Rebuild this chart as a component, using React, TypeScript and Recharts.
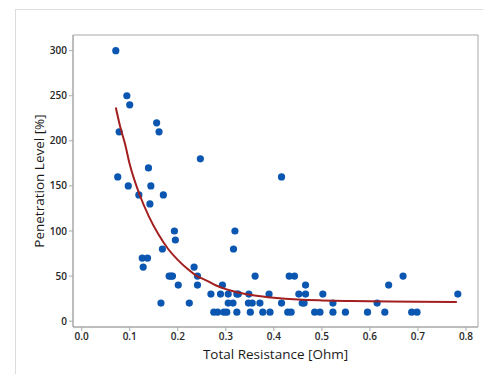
import { ScatterChart, Scatter, XAxis, YAxis, ReferenceArea } from 'recharts'

// measured samples: total resistance [Ohm] vs penetration level [%]
const resistance = [
  0.071, 0.094, 0.1, 0.156, 0.161, 0.078, 0.139, 0.075, 0.247, 0.097,
  0.144, 0.119, 0.17, 0.142, 0.193, 0.195, 0.168, 0.126, 0.137, 0.128,
  0.182, 0.186, 0.189, 0.201, 0.165, 0.224, 0.234, 0.241, 0.241, 0.416,
  0.319, 0.316, 0.361, 0.432, 0.443, 0.466, 0.293, 0.269, 0.289, 0.305,
  0.323, 0.326, 0.348, 0.39, 0.452, 0.466, 0.502, 0.305, 0.315, 0.347,
  0.355, 0.371, 0.416, 0.459, 0.463, 0.523, 0.275, 0.283, 0.296, 0.302,
  0.323, 0.351, 0.377, 0.392, 0.429, 0.436, 0.485, 0.496, 0.523, 0.549,
  0.595, 0.615, 0.631, 0.639, 0.669, 0.687, 0.698, 0.783,
]
const penetration = [
  300, 250, 240, 220, 210, 210, 170, 160, 180, 150,
  150, 140, 140, 130, 100, 90, 80, 70, 70, 60,
  50, 50, 50, 40, 20, 20, 60, 50, 40, 160,
  100, 80, 50, 50, 50, 40, 40, 30, 30, 30,
  30, 30, 30, 30, 30, 30, 30, 20, 20, 20,
  20, 20, 20, 20, 20, 20, 10, 10, 10, 10,
  10, 10, 10, 10, 10, 10, 10, 10, 10, 10,
  10, 20, 10, 40, 50, 10, 10, 30,
]

// fitted curve
const fitX = [0.071, 0.08, 0.09, 0.1, 0.12, 0.14, 0.16, 0.18, 0.2, 0.22, 0.24, 0.26, 0.28, 0.3, 0.33, 0.36, 0.4, 0.45, 0.5, 0.55, 0.6, 0.7, 0.781]
const fitY = [237, 216, 197, 174, 141, 116, 96, 80, 68, 58, 50, 45, 39.5, 35.5, 31.3, 28.5, 26, 24, 23, 22.4, 22, 21.6, 21.3]

const xTicks = [0, 0.1, 0.2, 0.3, 0.4, 0.5, 0.6, 0.7, 0.8]
const yTicks = [0, 50, 100, 150, 200, 250, 300]

const points = resistance.map((x, i) => ({ x, y: penetration[i] }))
const fit = fitX.map((x, i) => ({ x, y: fitY[i] }))

const X_DOMAIN: [number, number] = [-0.0181, 0.825]
const Y_DOMAIN: [number, number] = [-6.5, 317.4]

const tickStyle = { fill: '#262626', fontSize: 10, fontWeight: 600, fontFamily: '"Open Sans", "Noto Sans", sans-serif' }
const titleStyle = { fill: '#1a1a1a', fontSize: 13.5, fontFamily: '"Open Sans", "Noto Sans", sans-serif' }

const Dot = (props: any) => <circle cx={props.cx} cy={props.cy} r={3.6} fill="#0b56b0" />

const App = () => (
  <div style={{ position: 'absolute', left: 0, top: 0, width: 483, height: 374, background: '#fff' }}>
    <div
      style={{
        position: 'absolute',
        left: 15,
        top: 9,
        width: 468,
        height: 365,
        borderLeft: '1px solid #dcdcdc',
        borderTop: '1px solid #dcdcdc',
        boxSizing: 'border-box',
      }}
    />
    <ScatterChart width={483} height={374} margin={{ top: 35, right: 5, left: 0, bottom: 0 }} style={{ position: 'absolute', left: 0, top: 0 }}>
      <XAxis
        type="number"
        dataKey="x"
        domain={X_DOMAIN}
        ticks={xTicks}
        tickFormatter={(v: number) => v.toFixed(1)}
        allowDataOverflow
        height={47}
        tickSize={4}
        tickMargin={2}
        stroke="#a8a8a8"
        tick={tickStyle}
        label={{ value: 'Total Resistance [Ohm]', position: 'center', dy: 4, style: titleStyle }}
      />
      <YAxis
        type="number"
        dataKey="y"
        domain={Y_DOMAIN}
        ticks={yTicks}
        allowDataOverflow
        width={73}
        tickSize={4}
        tickMargin={2}
        stroke="#a8a8a8"
        tick={tickStyle}
        label={{ value: 'Penetration Level [%]', angle: -90, position: 'center', dx: 3, style: titleStyle }}
      />
      <ReferenceArea x1={X_DOMAIN[0]} x2={X_DOMAIN[1]} y1={Y_DOMAIN[0]} y2={Y_DOMAIN[1]} fill="none" stroke="#a8a8a8" />
      <Scatter data={points} shape={Dot} isAnimationActive={false} />
      <Scatter
        data={fit}
        line={{ stroke: '#a31f1f', strokeWidth: 2 }}
        lineJointType="monotoneX"
        shape={() => null}
        isAnimationActive={false}
      />
    </ScatterChart>
  </div>
)

export default App
